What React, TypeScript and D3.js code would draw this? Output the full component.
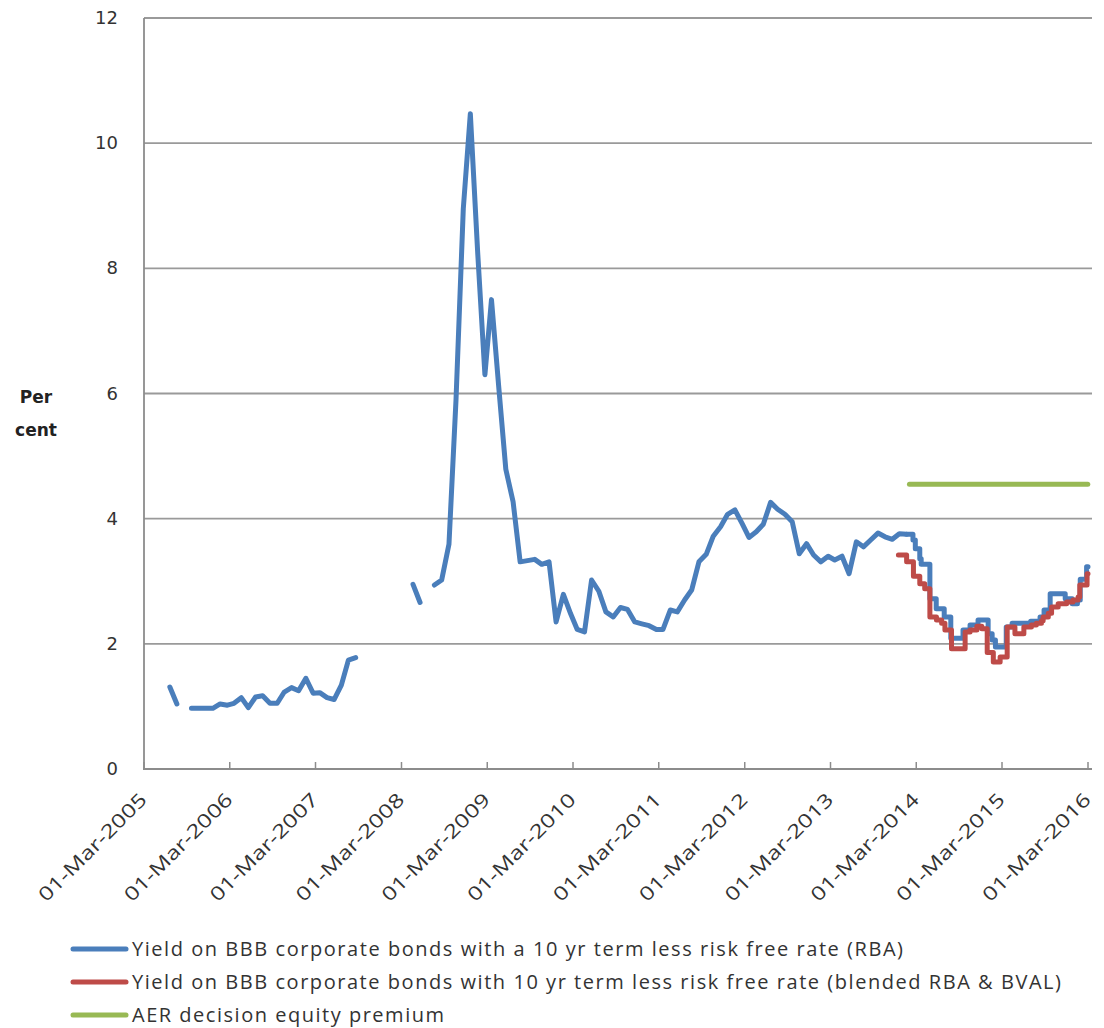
import React from "react";
import * as d3 from "d3";

// ---------- data ----------
const yTicks = [0, 2, 4, 6, 8, 10, 12];
const xTickYears = [2005, 2006, 2007, 2008, 2009, 2010, 2011, 2012, 2013, 2014, 2015, 2016];

// Monthly RBA spread series (first value = Mar 2005), null = missing
const blueMonthlyStart = "2005-03-19";
const blueMonthly: (number | null)[] = [
  null, null, null, 1.31, 1.04, null, 0.97, 0.97, 0.97, 0.97,
  1.04, 1.02, 1.05, 1.14, 0.98, 1.15, 1.17, 1.05, 1.05, 1.23,
  1.3, 1.25, 1.45, 1.21, 1.22, 1.14, 1.11, 1.34, 1.74, 1.78,
  null, null, null, null, null, null, null, 2.95, 2.66, null,
  2.94, 3.02, 3.59, 5.9, 8.95, 10.47, 8.27, 6.3, 7.5, 6.1,
  4.79, 4.27, 3.31, 3.33, 3.35, 3.27, 3.31, 2.35, 2.79, 2.48,
  2.23, 2.19, 3.02, 2.84, 2.51, 2.43, 2.58, 2.55, 2.35, 2.32,
  2.29, 2.23, 2.23, 2.54, 2.51, 2.7, 2.86, 3.31, 3.43, 3.72,
  3.87, 4.07, 4.14, 3.92, 3.7, 3.79, 3.91, 4.26, 4.15, 4.07,
  3.95, 3.44, 3.6, 3.42, 3.31, 3.4, 3.34, 3.4, 3.12, 3.63,
  3.55, 3.66, 3.77, 3.71, 3.67, 3.76, 3.75,
];

// Later RBA series, held flat between updates (step)
const blueStepDates = [
  "2014-01-19", "2014-02-15", "2014-02-25", "2014-03-16", "2014-03-22", "2014-04-28",
  "2014-05-25", "2014-06-28", "2014-07-26", "2014-09-16", "2014-10-16", "2014-11-19",
  "2015-01-01", "2015-01-18", "2015-02-01", "2015-03-19", "2015-04-13", "2015-07-01",
  "2015-08-10", "2015-08-27", "2015-09-22", "2015-11-25", "2015-12-25", "2016-01-16",
  "2016-01-28", "2016-02-24", "2016-03-01",
];
const blueStepValues = [
  3.75, 3.66, 3.52, 3.36, 3.27, 2.72,
  2.56, 2.43, 2.09, 2.22, 2.3, 2.38,
  2.16, 2.06, 1.95, 2.27, 2.33, 2.36,
  2.43, 2.54, 2.8, 2.72, 2.64, 2.7,
  3.03, 3.23, 3.23,
];

// Blended RBA & BVAL series (step)
const redDates = [
  "2013-12-15", "2014-01-19", "2014-02-17", "2014-03-16", "2014-04-06", "2014-04-28",
  "2014-05-26", "2014-06-17", "2014-07-01", "2014-07-29", "2014-09-25", "2014-10-16",
  "2014-11-14", "2014-12-05", "2014-12-28", "2015-01-23", "2015-02-21", "2015-03-23",
  "2015-04-25", "2015-06-02", "2015-07-04", "2015-07-25", "2015-08-16", "2015-08-23",
  "2015-09-14", "2015-09-28", "2015-10-26", "2015-12-01", "2015-12-28", "2016-01-19",
  "2016-01-26", "2016-02-26", "2016-03-01",
];
const redValues = [
  3.42, 3.31, 3.08, 2.96, 2.88, 2.43,
  2.38, 2.33, 2.22, 1.92, 2.19, 2.22,
  2.28, 2.24, 1.86, 1.71, 1.79, 2.27,
  2.16, 2.27, 2.3, 2.33, 2.37, 2.43,
  2.49, 2.59, 2.64, 2.67, 2.7, 2.75,
  2.94, 3.12, 3.12,
];

// AER decision equity premium
const greenDates = ["2014-01-31", "2016-02-29"];
const greenValues = [4.55, 4.55];

const legendLabels = [
  "Yield on BBB corporate bonds with a 10 yr term less risk free rate (RBA)",
  "Yield on BBB corporate bonds with 10 yr term less risk free rate (blended RBA & BVAL)",
  "AER decision equity premium",
];
const seriesColors = ["#4A7EBB", "#BE4B48", "#98B954"];

// ---------- chart ----------
const W = 1104;
const H = 1028;
const parse = d3.timeParse("%Y-%m-%d");
const fmt = d3.timeFormat("%d-%b-%Y");

export default function App() {
  const x = d3
    .scaleTime()
    .domain([new Date(2005, 2, 1), new Date(2016, 2, 1)])
    .range([144, 1088]);
  const y = d3.scaleLinear().domain([0, 12]).range([769, 18]);
  const xEnd = 1092;

  type P = { d: Date; v: number | null };
  const start = parse(blueMonthlyStart)!;
  const bluePts: P[] = blueMonthly.map((v, i) => ({ d: d3.timeMonth.offset(start, i), v }));
  const blueStepPts: P[] = blueStepDates.map((s, i) => ({ d: parse(s)!, v: blueStepValues[i] }));
  const redPts: P[] = redDates.map((s, i) => ({ d: parse(s)!, v: redValues[i] }));
  const greenPts: P[] = greenDates.map((s, i) => ({ d: parse(s)!, v: greenValues[i] }));

  const lineLin = d3
    .line<P>()
    .defined((p) => p.v !== null)
    .x((p) => x(p.d))
    .y((p) => y(p.v as number));
  const lineStep = d3
    .line<P>()
    .x((p) => x(p.d))
    .y((p) => y(p.v as number))
    .curve(d3.curveStepAfter);

  const xTicks = xTickYears.map((yr) => new Date(yr, 2, 1));

  return (
    <svg
      width={W}
      height={H}
      style={{ position: "absolute", left: 0, top: 0, background: "#fff" }}
    >
      {/* gridlines */}
      {yTicks.filter((t) => t > 0).map((t) => (
        <line key={t} x1={144} x2={xEnd} y1={y(t)} y2={y(t)} stroke="#9a9a9a" strokeWidth={1.8} />
      ))}
      {/* axes */}
      <line x1={144} x2={144} y1={y(12)} y2={y(0)} stroke="#8c8c8c" strokeWidth={1.8} />
      <line x1={143} x2={xEnd} y1={y(0)} y2={y(0)} stroke="#8c8c8c" strokeWidth={1.8} />
      {xTicks.map((d, i) => (
        <line key={i} x1={x(d)} x2={x(d)} y1={y(0)} y2={y(0) - 7} stroke="#8c8c8c" strokeWidth={1.5} />
      ))}
      {/* y labels */}
      {yTicks.map((t) => (
        <text
          key={t}
          x={118}
          y={y(t) + 6}
          textAnchor="end"
          fontFamily="DejaVu Sans"
          fontSize={18}
          fill="#333"
        >
          {t}
        </text>
      ))}
      <text x={36} y={403} textAnchor="middle" fontFamily="DejaVu Sans" fontWeight="bold" fontSize={17} fill="#222">
        Per
      </text>
      <text x={36} y={436} textAnchor="middle" fontFamily="DejaVu Sans" fontWeight="bold" fontSize={17} fill="#222">
        cent
      </text>
      {/* x labels */}
      {xTicks.map((d, i) => {
        const px = x(d) + 4;
        const py = 801;
        return (
          <text
            key={i}
            x={px}
            y={py}
            transform={`rotate(-45 ${px} ${py})`}
            textAnchor="end"
            fontFamily="Open Sans"
            fontSize={19}
            fill="#333"
            textLength={144}
            lengthAdjust="spacingAndGlyphs"
          >
            {fmt(d)}
          </text>
        );
      })}
      {/* series */}
      <path d={lineLin(bluePts) || ""} fill="none" stroke={seriesColors[0]} strokeWidth={5} strokeLinejoin="round" strokeLinecap="round" />
      <path d={lineStep(blueStepPts) || ""} fill="none" stroke={seriesColors[0]} strokeWidth={5} strokeLinejoin="round" strokeLinecap="round" />
      <path d={lineStep(redPts) || ""} fill="none" stroke={seriesColors[1]} strokeWidth={5} strokeLinejoin="round" strokeLinecap="round" />
      <path d={lineLin(greenPts) || ""} fill="none" stroke={seriesColors[2]} strokeWidth={5} strokeLinecap="round" />
      {/* legend */}
      {legendLabels.map((lab, i) => {
        const cy = 949 + i * 33;
        const lens = [771, 929, 312];
        return (
          <g key={i}>
            <line x1={73} x2={126} y1={cy} y2={cy} stroke={seriesColors[i]} strokeWidth={5} strokeLinecap="round" />
            <text
              x={132}
              y={cy + 7}
              fontFamily="Open Sans"
              fontSize={20}
              fill="#333"
              textLength={lens[i]}
              lengthAdjust="spacing"
            >
              {lab}
            </text>
          </g>
        );
      })}
    </svg>
  );
}
